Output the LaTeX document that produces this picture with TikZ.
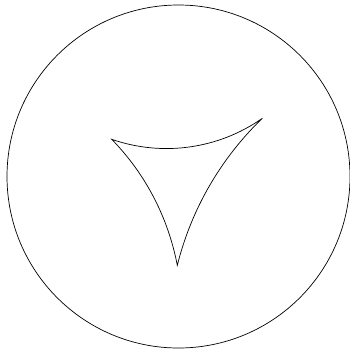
\documentclass[tikz,border=0pt]{standalone}
\begin{document}
\begin{tikzpicture}[x=1pt,y=-1pt,line width=0.7pt,
  edge/.style={draw=black,line join=miter}]
\useasboundingbox (0,0) rectangle (350,349);
\coordinate (O) at (178.5,176.5);
\coordinate (A) at (111.7,139.3);
\coordinate (B) at (262.3,118.3);
\coordinate (C) at (177.3,265.3);
\draw[edge] (O) circle[radius=171.5pt];
\draw[edge] (A) .. controls (162.3,156.9) and (218.4,149.1) .. (B)
  .. controls (221.1,158.0) and (191.5,208.6) .. (C)
  .. controls (168.2,217.9) and (145.8,174.2) .. (A) -- cycle;
\end{tikzpicture}
\end{document}
